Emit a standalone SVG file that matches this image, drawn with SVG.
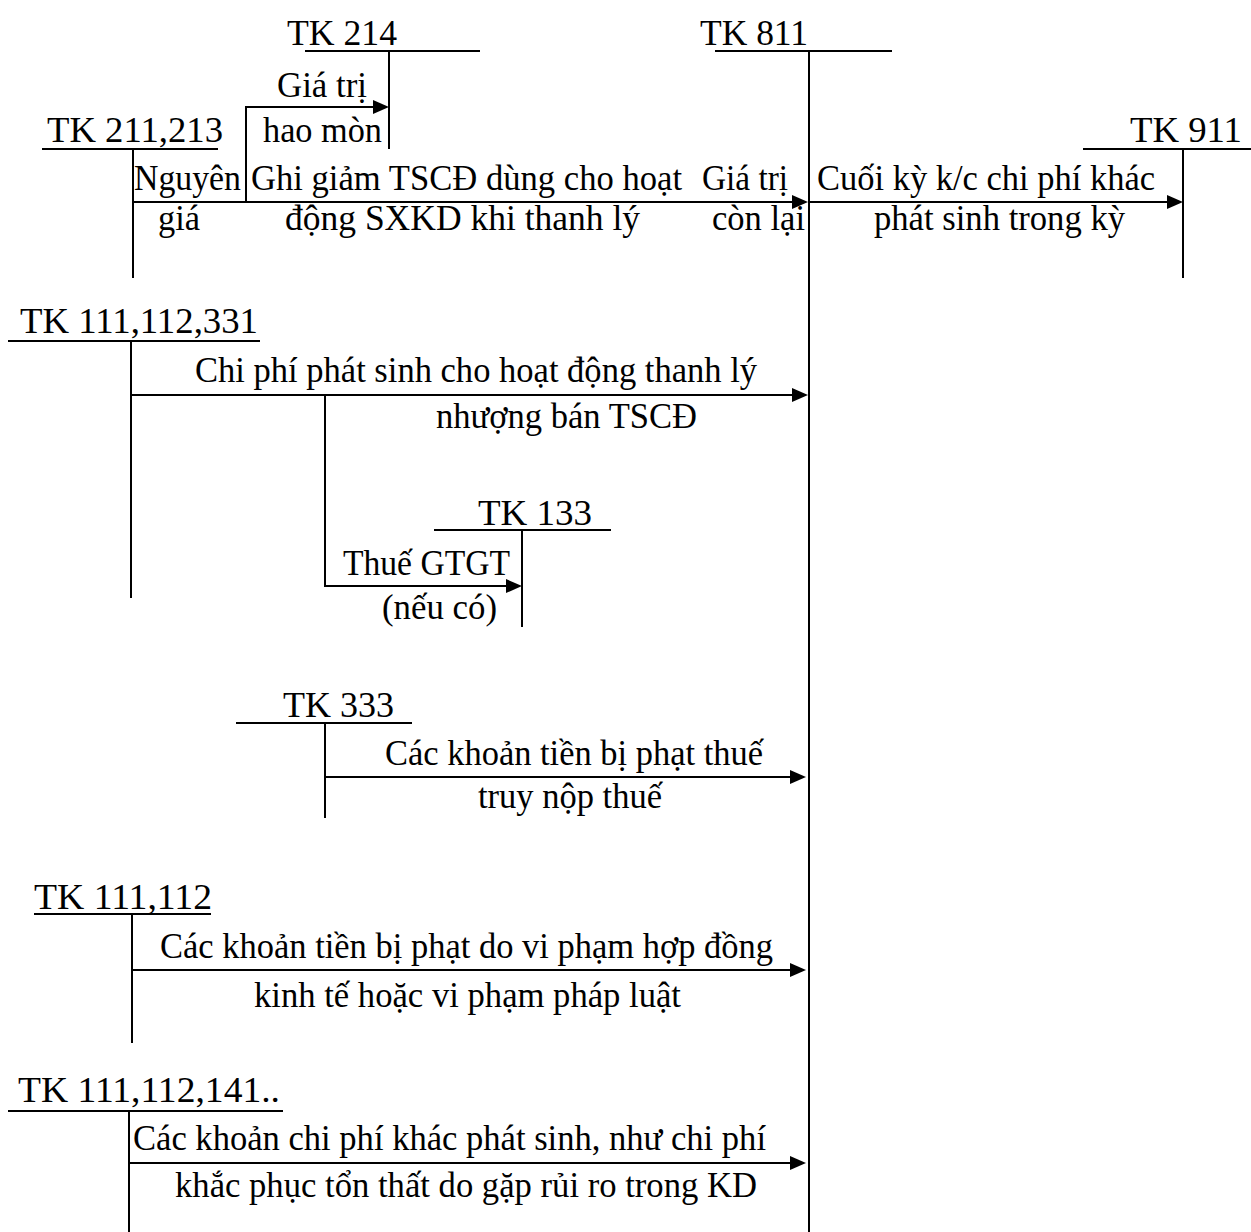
<svg xmlns="http://www.w3.org/2000/svg" width="1251" height="1232" viewBox="0 0 1251 1232">
<style>
text{font-family:"Liberation Serif","Times New Roman",serif;font-size:36px;fill:#000}
.ln{stroke:#000;stroke-width:2;fill:none}
.ar{stroke:#000;stroke-width:2;fill:none;marker-end:url(#ah)}
</style>
<defs>
<marker id="ah" markerUnits="userSpaceOnUse" viewBox="0 0 16 14" refX="8" refY="7" markerWidth="16" markerHeight="14" orient="auto">
<path d="M0,0 L16,7 L0,14 Z" fill="#000"/>
</marker>
</defs>
<rect width="1251" height="1232" fill="#fff"/>

<g id="tk214">
<text x="287" y="45" textLength="110" lengthAdjust="spacingAndGlyphs">TK 214</text>
<line class="ln" x1="305" y1="51" x2="480" y2="51"/>
<line class="ln" x1="389" y1="51" x2="389" y2="149"/>
</g>
<g id="tk811">
<text x="700" y="45" textLength="108" lengthAdjust="spacingAndGlyphs">TK 811</text>
<line class="ln" x1="715" y1="51" x2="892" y2="51"/>
<line class="ln" x1="809" y1="51" x2="809" y2="1232"/>
</g>
<g id="tk211">
<text x="47" y="142" textLength="176" lengthAdjust="spacingAndGlyphs">TK 211,213</text>
<line class="ln" x1="42" y1="149" x2="218" y2="149"/>
<line class="ln" x1="133" y1="149" x2="133" y2="278"/>
</g>
<g id="tk911">
<text x="1130" y="142" textLength="112" lengthAdjust="spacingAndGlyphs">TK 911</text>
<line class="ln" x1="1083" y1="149" x2="1251" y2="149"/>
<line class="ln" x1="1183" y1="149" x2="1183" y2="278"/>
</g>
<g id="tk111_112_331">
<text x="20" y="333" textLength="238" lengthAdjust="spacingAndGlyphs">TK 111,112,331</text>
<line class="ln" x1="8" y1="341" x2="260" y2="341"/>
<line class="ln" x1="131" y1="341" x2="131" y2="598"/>
</g>
<g id="tk133">
<text x="478" y="525" textLength="114" lengthAdjust="spacingAndGlyphs">TK 133</text>
<line class="ln" x1="434" y1="530" x2="611" y2="530"/>
<line class="ln" x1="522" y1="530" x2="522" y2="627"/>
</g>
<g id="tk333">
<text x="283" y="717" textLength="111" lengthAdjust="spacingAndGlyphs">TK 333</text>
<line class="ln" x1="236" y1="723" x2="412" y2="723"/>
<line class="ln" x1="325" y1="723" x2="325" y2="818"/>
</g>
<g id="tk111_112">
<text x="34" y="909" textLength="178" lengthAdjust="spacingAndGlyphs">TK 111,112</text>
<line class="ln" x1="34" y1="914" x2="211" y2="914"/>
<line class="ln" x1="132" y1="914" x2="132" y2="1043"/>
</g>
<g id="tk111_112_141">
<text x="18" y="1102" textLength="262" lengthAdjust="spacingAndGlyphs">TK 111,112,141..</text>
<line class="ln" x1="8" y1="1111" x2="283" y2="1111"/>
<line class="ln" x1="129" y1="1111" x2="129" y2="1232"/>
</g>

<g id="connectors">
<path class="ar" d="M246,202 L246,107 L381,107"/>
<path class="ar" d="M133,202 L800,202"/>
<path class="ar" d="M809,202 L1175,202"/>
<path class="ar" d="M131,395 L800,395"/>
<path class="ar" d="M325,395 L325,586 L514,586"/>
<path class="ar" d="M325,777 L798,777"/>
<path class="ar" d="M132,970 L798,970"/>
<path class="ar" d="M129,1163 L798,1163"/>
</g>

<g id="labels">
<text x="277" y="97" textLength="90" lengthAdjust="spacingAndGlyphs">Giá trị</text>
<text x="263" y="142" textLength="119" lengthAdjust="spacingAndGlyphs">hao mòn</text>
<text x="134" y="190" textLength="107" lengthAdjust="spacingAndGlyphs">Nguyên</text>
<text x="158" y="230" textLength="42" lengthAdjust="spacingAndGlyphs">giá</text>
<text x="251" y="190" textLength="431" lengthAdjust="spacingAndGlyphs">Ghi giảm TSCĐ dùng cho hoạt</text>
<text x="285" y="230" textLength="355" lengthAdjust="spacingAndGlyphs">động SXKD khi thanh lý</text>
<text x="702" y="190" textLength="86" lengthAdjust="spacingAndGlyphs">Giá trị</text>
<text x="712" y="230" textLength="93" lengthAdjust="spacingAndGlyphs">còn lại</text>
<text x="817" y="190" textLength="338" lengthAdjust="spacingAndGlyphs">Cuối kỳ k/c chi phí khác</text>
<text x="874" y="230" textLength="251" lengthAdjust="spacingAndGlyphs">phát sinh trong kỳ</text>
<text x="195" y="382" textLength="562" lengthAdjust="spacingAndGlyphs">Chi phí phát sinh cho hoạt động thanh lý</text>
<text x="436" y="428" textLength="261" lengthAdjust="spacingAndGlyphs">nhượng bán TSCĐ</text>
<text x="343" y="575" textLength="167" lengthAdjust="spacingAndGlyphs">Thuế GTGT</text>
<text x="382" y="619" textLength="115" lengthAdjust="spacingAndGlyphs">(nếu có)</text>
<text x="385" y="765" textLength="378" lengthAdjust="spacingAndGlyphs">Các khoản tiền bị phạt thuế</text>
<text x="478" y="808" textLength="184" lengthAdjust="spacingAndGlyphs">truy nộp thuế</text>
<text x="160" y="958" textLength="613" lengthAdjust="spacingAndGlyphs">Các khoản tiền bị phạt do vi phạm hợp đồng</text>
<text x="254" y="1007" textLength="427" lengthAdjust="spacingAndGlyphs">kinh tế hoặc vi phạm pháp luật</text>
<text x="133" y="1150" textLength="633" lengthAdjust="spacingAndGlyphs">Các khoản chi phí khác phát sinh, như chi phí</text>
<text x="175" y="1197" textLength="582" lengthAdjust="spacingAndGlyphs">khắc phục tổn thất do gặp rủi ro trong KD</text>
</g>
</svg>
